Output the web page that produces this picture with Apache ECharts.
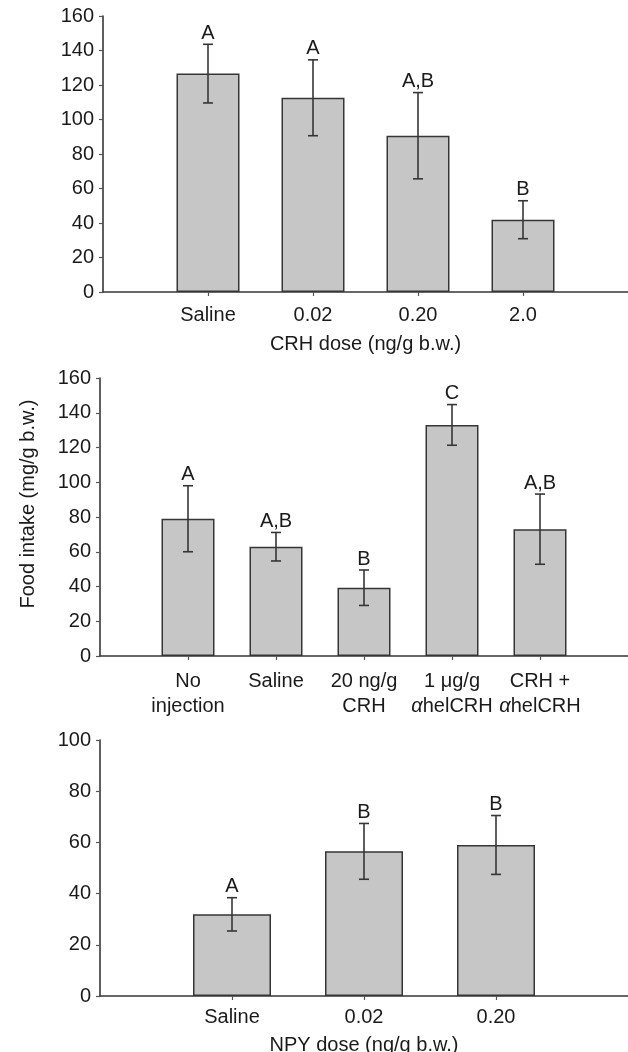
<!DOCTYPE html>
<html>
<head>
<meta charset="utf-8">
<script src="https://cdn.jsdelivr.net/npm/echarts@6/dist/echarts.min.js"></script>
<style>
  html, body { margin: 0; padding: 0; background: #fff; }
  #chart { width: 628px; height: 1052px; }
</style>
</head>
<body>
<div id="chart"></div>
<script>
  // top panel: CRH dose
  var crhDose = ['Saline', '0.02', '0.20', '2.0'];
  var crhMean = [126.6, 112.6, 90.6, 41.9];
  var crhErr = [17, 22, 25, 11];
  var crhLetters = ['A', 'A', 'A,B', 'B'];

  // middle panel: treatments
  var treatments = ['No\ninjection', 'Saline', '20 ng/g\nCRH', '1 \u03bcg/g\n{a|\u03b1}helCRH', 'CRH +\n{a|\u03b1}helCRH'];
  var treatMean = [79, 62.9, 39.3, 133, 73];
  var treatErr = [19, 8.2, 10.2, 11.7, 20.2];
  var treatLetters = ['A', 'A,B', 'B', 'C', 'A,B'];

  // bottom panel: NPY dose
  var npyDose = ['Saline', '0.02', '0.20'];
  var npyMean = [31.9, 56.5, 59];
  var npyErr = [6.5, 10.9, 11.5];
  var npyLetters = ['A', 'B', 'B'];

  var yTicks1 = {min: 0, max: 160, interval: 20};
  var yTicks2 = {min: 0, max: 160, interval: 20};
  var yTicks3 = {min: 0, max: 100, interval: 20};

  var FONT = '"Liberation Sans", Arial, Helvetica, sans-serif';
  var TXT = '#1a1a1a';
  var LINE = '#363636';

  function padCats(arr) { return [''].concat(arr).concat(['']); }

  function errRender(letters) {
    return function (params, api) {
      var lo = api.coord([api.value(0), api.value(1)]);
      var hi = api.coord([api.value(0), api.value(2)]);
      var cap = 5;
      var st = {stroke: LINE, lineWidth: 1.6};
      return {
        type: 'group',
        children: [
          {type: 'line', shape: {x1: lo[0], y1: lo[1], x2: hi[0], y2: hi[1]}, style: st},
          {type: 'line', shape: {x1: lo[0] - cap, y1: lo[1], x2: lo[0] + cap, y2: lo[1]}, style: st},
          {type: 'line', shape: {x1: hi[0] - cap, y1: hi[1], x2: hi[0] + cap, y2: hi[1]}, style: st},
          {
            type: 'text',
            style: {
              text: letters[params.dataIndex],
              x: hi[0], y: hi[1] - 1,
              align: 'center', verticalAlign: 'bottom',
              textAlign: 'center', textVerticalAlign: 'bottom',
              fill: TXT, fontSize: 20, fontFamily: FONT
            }
          }
        ]
      };
    };
  }

  function xAxisOf(idx, cats, name, margin, gap) {
    return {
      type: 'category',
      gridIndex: idx,
      data: padCats(cats),
      boundaryGap: false,
      axisLine: {lineStyle: {color: LINE, width: 1.6}},
      axisTick: {
        length: 4,
        interval: function (i, v) { return v !== ''; },
        lineStyle: {color: '#555', width: 1.2}
      },
      axisLabel: {
        interval: 0,
        color: TXT, fontSize: 20, fontFamily: FONT, margin: margin, lineHeight: 25,
        rich: {a: {fontStyle: 'italic', fontSize: 20, fontFamily: FONT, color: TXT, lineHeight: 25}}
      },
      splitLine: {show: false},
      name: name,
      nameLocation: 'middle',
      nameGap: gap,
      nameTextStyle: {color: TXT, fontSize: 20, fontFamily: FONT}
    };
  }

  function yAxisOf(idx, t, name) {
    var ax = {
      type: 'value',
      gridIndex: idx,
      min: t.min, max: t.max, interval: t.interval,
      axisLine: {show: true, lineStyle: {color: LINE, width: 1.6}},
      axisTick: {show: true, length: 4, lineStyle: {color: '#555', width: 1.2}},
      axisLabel: {color: TXT, fontSize: 20, fontFamily: FONT, margin: 9},
      splitLine: {show: false}
    };
    if (name) {
      ax.name = name;
      ax.nameLocation = 'middle';
      ax.nameGap = 62;
      ax.nameTextStyle = {color: TXT, fontSize: 20, fontFamily: FONT, padding: [0, 0, 0, 26]};
    }
    return ax;
  }

  function barSeries(idx, means, width) {
    return {
      type: 'bar',
      xAxisIndex: idx, yAxisIndex: idx,
      barWidth: width,
      data: means.map(function (v, i) { return [i + 1, v]; }),
      itemStyle: {color: '#c6c6c6', borderColor: LINE, borderWidth: 1.5},
      silent: true
    };
  }

  function errSeries(idx, means, errs, letters) {
    return {
      type: 'custom',
      xAxisIndex: idx, yAxisIndex: idx,
      renderItem: errRender(letters),
      encode: {x: 0, y: [1, 2]},
      data: means.map(function (v, i) { return [i + 1, v - errs[i], v + errs[i]]; }),
      z: 5,
      silent: true
    };
  }

  var chart = echarts.init(document.getElementById('chart'));
  chart.setOption({
    animation: false,
    backgroundColor: '#fff',
    grid: [
      {left: 103, top: 16, width: 525, height: 276, outerBoundsMode: 'none'},
      {left: 100, top: 378, width: 528, height: 278, outerBoundsMode: 'none'},
      {left: 100, top: 740, width: 528, height: 256, outerBoundsMode: 'none'}
    ],
    xAxis: [
      xAxisOf(0, crhDose, 'CRH dose (ng/g b.w.)', 11, 42),
      xAxisOf(1, treatments, '', 13, 40),
      xAxisOf(2, npyDose, 'NPY dose (ng/g b.w.)', 9, 39)
    ],
    yAxis: [
      yAxisOf(0, yTicks1),
      yAxisOf(1, yTicks2, 'Food intake (mg/g b.w.)'),
      yAxisOf(2, yTicks3)
    ],
    series: [
      barSeries(0, crhMean, 63),
      errSeries(0, crhMean, crhErr, crhLetters),
      barSeries(1, treatMean, 53),
      errSeries(1, treatMean, treatErr, treatLetters),
      barSeries(2, npyMean, 78),
      errSeries(2, npyMean, npyErr, npyLetters)
    ]
  });
</script>
</body>
</html>
